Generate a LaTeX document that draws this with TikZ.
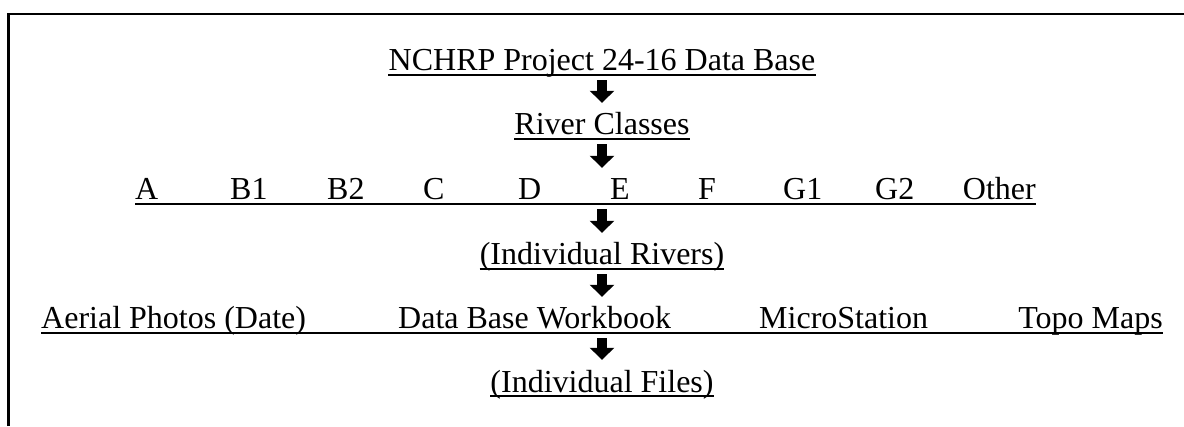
\documentclass[tikz,border=0pt]{standalone}
\usepackage{fontspec}
\setmainfont{Liberation Serif}
\usetikzlibrary{arrows.meta,calc}
\begin{document}
\begin{tikzpicture}[x=1pt,y=1pt,
  lbl/.style={inner sep=0pt, text height=23pt, text depth=7pt, font=\fontsize{32}{38}\selectfont},
  ctr/.style={lbl, anchor=base},
  lft/.style={lbl, anchor=base west},
  rgt/.style={lbl, anchor=base east},
  uline/.style={line width=1.8pt},
  blockarrow/.style={line width=10pt, -{Triangle[width=24pt,length=12pt]}, shorten <=2pt, shorten >=9pt},
  frame/.style={line width=2.5pt}]
\useasboundingbox (0,0) rectangle (1184,426);
% frame
\draw[frame] (8.5,0) -- (8.5,412) -- (1184,412);
% row 1
\node[ctr] (title) at (602,355) {NCHRP Project 24-16 Data Base};
% row 2
\node[ctr] (classes) at (602,291) {River Classes};
% row 3
\node[lft] (A) at (135,226) {A};
\node[lft] (B1) at (230,226) {B1};
\node[lft] (B2) at (327,226) {B2};
\node[lft] (C) at (423,226) {C};
\node[lft] (D) at (518,226) {D};
\node[lft] (E) at (610,226) {E};
\node[lft] (F) at (698,226) {F};
\node[lft] (G1) at (783,226) {G1};
\node[lft] (G2) at (875,226) {G2};
\node[rgt] (other) at (1036,226) {Other};
% row 4
\node[ctr] (rivers) at (602,161) {(Individual Rivers)};
% row 5
\node[lft] (aerial) at (41,97) {Aerial Photos (Date)};
\node[lft] (workbook) at (398,97) {Data Base Workbook};
\node[lft] (micro) at (759,97) {MicroStation};
\node[rgt] (topo) at (1163,97) {Topo Maps};
% row 6
\node[ctr] (files) at (602,34) {(Individual Files)};
% underlines
\draw[uline] ([yshift=-4pt]title.base west) -- ([yshift=-4pt]title.base east);
\draw[uline] ([yshift=-4pt]classes.base west) -- ([yshift=-4pt]classes.base east);
\draw[uline] ([yshift=-4pt]A.base west) -- ([yshift=-4pt]other.base east);
\draw[uline] ([yshift=-4pt]rivers.base west) -- ([yshift=-4pt]rivers.base east);
\draw[uline] ([yshift=-4pt]aerial.base west) -- ([yshift=-4pt]topo.base east);
\draw[uline] ([yshift=-4pt]files.base west) -- ([yshift=-4pt]files.base east);
% arrows
\draw[blockarrow] (title.south) -- (classes.north);
\draw[blockarrow] (classes.south) -- (classes.south |- E.north);
\draw[blockarrow] (rivers.north |- E.south) -- (rivers.north);
\draw[blockarrow] (rivers.south) -- (rivers.south |- workbook.north);
\draw[blockarrow] (files.north |- workbook.south) -- (files.north);
\end{tikzpicture}
\end{document}
